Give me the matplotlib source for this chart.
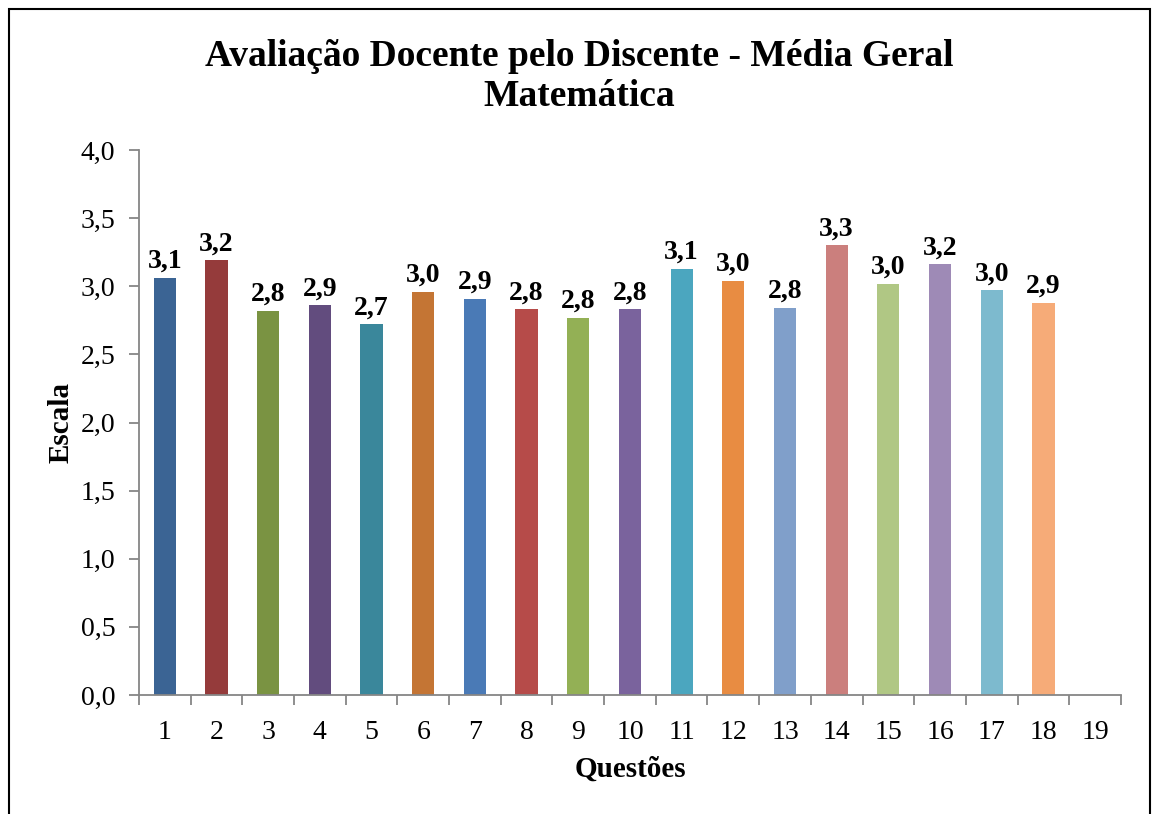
import matplotlib.pyplot as plt
import matplotlib.patches as patches
import numpy as np

plt.rcParams['font.family'] = ['Liberation Serif', 'DejaVu Serif']

questoes = list(range(1, 20))
medias = [3.06, 3.19, 2.82, 2.86, 2.72, 2.96, 2.91, 2.83, 2.77, 2.83,
          3.13, 3.04, 2.84, 3.30, 3.02, 3.16, 2.97, 2.88]
cores = ['#3B6494', '#953B3B', '#7A9342', '#624C7E', '#3A879B', '#C47534',
         '#4A7AB6', '#B64B49', '#93B055', '#7A639D', '#4BA6BF', '#E88C42',
         '#809FCA', '#CB7F7D', '#B0C784', '#9E8AB6', '#7DBACE', '#F6AB78']
yticks = [0.0, 0.5, 1.0, 1.5, 2.0, 2.5, 3.0, 3.5, 4.0]

fig = plt.figure(figsize=(11.58, 8.14), dpi=100)
ax = fig.add_axes([0.12, 0.1462, 0.848, 0.6695])

x = np.arange(1, len(medias) + 1)
ax.bar(x, medias, width=0.43, color=cores, zorder=2)

for xi, v in zip(x, medias):
    ax.text(xi, v + 0.03, f"{v:.1f}".replace('.', ','), ha='center', va='bottom',
            fontsize=20, fontweight='bold')

ax.set_xlim(0.5, 19.5)
ax.set_ylim(0, 4.0)
ax.set_yticks(yticks)
ax.set_yticklabels([f"{t:.1f}".replace('.', ',') for t in yticks], fontsize=20)
ax.set_xticks(np.arange(0.5, 19.6, 1.0))
ax.set_xticklabels([])
ax.set_xticks(questoes, minor=True)
ax.set_xticklabels([str(q) for q in questoes], minor=True, fontsize=20)
ax.tick_params(axis='x', which='minor', length=0, pad=18)
ax.tick_params(axis='x', which='major', length=7, color='#868686', width=1.3)
ax.tick_params(axis='y', length=7, color='#868686', width=1.3, pad=10)

for s in ['top', 'right']:
    ax.spines[s].set_visible(False)
for s in ['left', 'bottom']:
    ax.spines[s].set_color('#868686')
    ax.spines[s].set_linewidth(1.3)

ax.set_ylabel('Escala', fontsize=21, fontweight='bold', labelpad=4)
ax.set_xlabel('Questões', fontsize=21, fontweight='bold', labelpad=8)

fig.text(0.5, 0.906, 'Avaliação Docente pelo Discente - Média Geral\nMatemática',
         ha='center', va='center', fontsize=27, fontweight='bold', linespacing=1.2)

border = patches.Rectangle((8.5 / 1158, -0.02), (1150 - 8.5) / 1158, 0.02 + 1 - 9.5 / 814,
                           transform=fig.transFigure, fill=False, edgecolor='black',
                           linewidth=1.5, clip_on=False)
fig.patches.append(border)

fig.savefig('out.png', dpi=100)
